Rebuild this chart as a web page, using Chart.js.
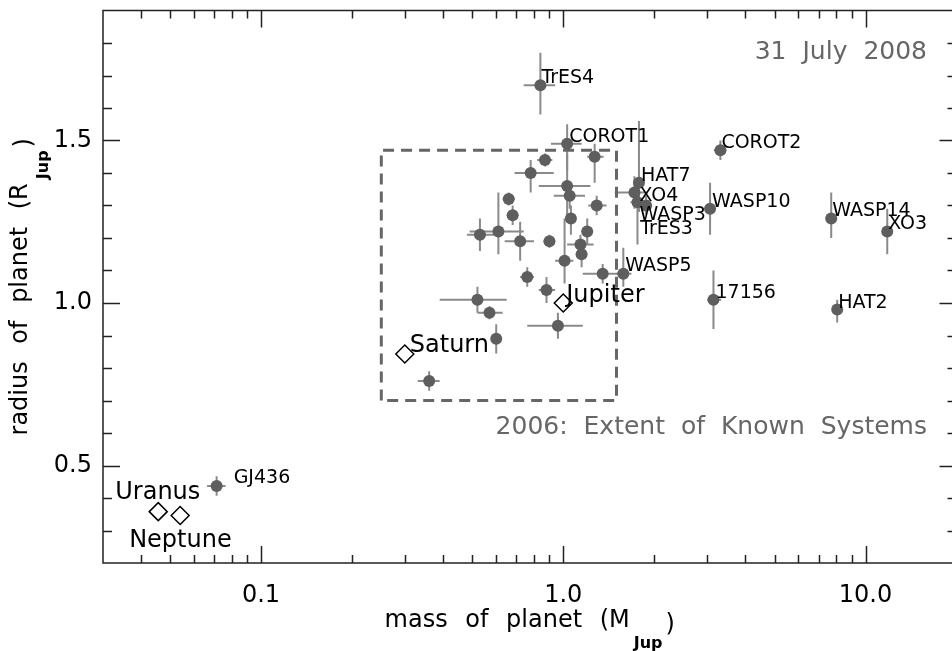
<!DOCTYPE html>
<html>
<head>
<meta charset="utf-8">
<script src="https://cdn.jsdelivr.net/npm/chart.js@4/dist/chart.umd.min.js"></script>
<style>
  html, body { margin: 0; padding: 0; background: #fff; overflow: hidden; }
  canvas { display: block; }
</style>
</head>
<body>
<canvas id="myChart" width="967" height="651"></canvas>
<script>
// transiting planets (mass in M_Jup, radius in R_Jup)
const planetNames = ['TrES4', 'COROT1', '', '', '', '', '', '', '', '', '', '', '', '', '', '', '', '', '', '',
    'WASP5', '', '', '', '', '', '', '', 'HAT7', 'XO4', 'WASP3', 'TrES3', 'COROT2', 'WASP10', 'WASP14', 'XO3',
    '17156', 'HAT2', 'GJ436'];
const planetMass = [0.84, 1.03, 0.87, 0.78, 1.27, 1.03, 1.05, 1.29, 0.66, 0.68, 1.06, 1.20, 0.53, 0.61, 0.72, 0.90,
    1.14, 1.15, 1.01, 1.35, 1.58, 0.76, 0.88, 0.52, 0.57, 0.96, 0.60, 0.36, 1.78, 1.72, 1.76, 1.88, 3.31, 3.06,
    7.70, 11.8, 3.14, 8.06, 0.0713];
const planetRadius = [1.67, 1.49, 1.44, 1.40, 1.45, 1.36, 1.33, 1.30, 1.32, 1.27, 1.26, 1.22, 1.21, 1.22, 1.19, 1.19,
    1.18, 1.15, 1.13, 1.09, 1.09, 1.08, 1.04, 1.01, 0.97, 0.93, 0.89, 0.76, 1.37, 1.34, 1.31, 1.30, 1.47, 1.29,
    1.26, 1.22, 1.01, 0.98, 0.437];
const massErrLow = [0.10, 0.12, 0.05, 0.09, 0.07, 0.20, 0.12, 0.08, 0.03, 0.03, 0.04, 0.05, 0.05, 0.12, 0.08, 0.04,
    0.11, 0.05, 0.07, 0.19, 0.08, 0.04, 0.05, 0.13, 0.05, 0.20, 0.02, 0.03, 0.05, 0.24, 0.09, 0.07, 0.16, 0.13,
    0.30, 0.40, 0.15, 0.30, 0.005];
const massErrHigh = [0.10, 0.12, 0.05, 0.15, 0.09, 0.20, 0.13, 0.10, 0.03, 0.03, 0.04, 0.05, 0.06, 0.13, 0.08, 0.04,
    0.12, 0.05, 0.07, 0.23, 0.10, 0.04, 0.06, 0.13, 0.06, 0.20, 0.02, 0.03, 0.05, 0.17, 0.08, 0.07, 0.16, 0.13,
    0.30, 0.40, 0.19, 0.30, 0.005];
const radiusErrLow = [0.09, 0.08, 0.02, 0.06, 0.08, 0.10, 0.04, 0.03, 0.02, 0.03, 0.05, 0.04, 0.05, 0.07, 0.06, 0.02,
    0.03, 0.04, 0.07, 0.03, 0.04, 0.03, 0.04, 0.04, 0.02, 0.04, 0.045, 0.03, 0.09, 0.05, 0.13, 0.03, 0.03, 0.08,
    0.06, 0.07, 0.09, 0.04, 0.03];
const radiusErrHigh = [0.10, 0.06, 0.02, 0.04, 0.04, 0.10, 0.04, 0.03, 0.02, 0.03, 0.04, 0.04, 0.05, 0.12, 0.06, 0.02,
    0.03, 0.04, 0.13, 0.03, 0.08, 0.03, 0.04, 0.04, 0.02, 0.04, 0.045, 0.03, 0.19, 0.05, 0.05, 0.03, 0.03, 0.08,
    0.08, 0.07, 0.09, 0.03, 0.03];

// solar system giants
const solarNames = ['Jupiter', 'Saturn', 'Uranus', 'Neptune'];
const solarMass = [1.0, 0.299, 0.0457, 0.054];
const solarRadius = [1.0, 0.843, 0.358, 0.346];

// 2006 extent box
const boxMass = [0.25, 1.5];
const boxRadius = [0.70, 1.47];

const xTickValues = [0.1, 1, 10];
const xTickLabels = ['0.1', '1.0', '10.0'];
const yTickValues = [0.5, 1.0, 1.5];
const yTickLabels = ['0.5', '1.0', '1.5'];

const FONT = 'DejaVu Sans';

// label placement (pixels from the marker: text left, baseline)
const labelOffsets = {
    TrES4: [1, -2], COROT1: [2, -2], COROT2: [1, -2], HAT7: [2, -2], XO4: [5, 8], WASP3: [2, 18],
    TrES3: [-6, 28], WASP10: [2, -2], WASP14: [1, -3], XO3: [1, -3], WASP5: [2, -3], '17156': [2, -2],
    HAT2: [1, -2], GJ436: [17, -3], Jupiter: [3, -1], Saturn: [5, -2], Uranus: [-43, -13], Neptune: [-51, 31]
};

const planetPoints = planetMass.map((m, i) => ({x: m, y: planetRadius[i]}));
const solarPoints = solarMass.map((m, i) => ({x: m, y: solarRadius[i]}));
const boxPoints = [
    {x: boxMass[0], y: boxRadius[0]}, {x: boxMass[0], y: boxRadius[1]},
    {x: boxMass[1], y: boxRadius[1]}, {x: boxMass[1], y: boxRadius[0]},
    {x: boxMass[0], y: boxRadius[0]}
];

function minorTicks(scale, isLog) {
    const out = [];
    if (isLog) {
        [0.01, 0.1, 1, 10].forEach(d => {
            for (let k = 2; k <= 9; k++) {
                const v = k * d;
                if (v > scale.min && v < scale.max) out.push(v);
            }
        });
    } else {
        for (let v = 0.3; v < scale.max - 0.01; v += 0.1) {
            const r = Math.round(v * 10) / 10;
            if (yTickValues.indexOf(r) < 0) out.push(r);
        }
    }
    return out;
}

// keep the plot frame exactly where the axes are sized, no label overhang padding
function fixSize(prop, size) {
    return s => {
        s[prop] = size;
        s.paddingTop = 0; s.paddingBottom = 0; s.paddingLeft = 0; s.paddingRight = 0;
    };
}

const decor = {
    id: 'decor',
    beforeDatasetsDraw(chart) {
        const {ctx, scales: {x, y}} = chart;
        ctx.save();
        ctx.strokeStyle = '#8a8a8a';
        ctx.lineWidth = 2;
        planetMass.forEach((m, i) => {
            const r = planetRadius[i];
            const px = x.getPixelForValue(m), py = y.getPixelForValue(r);
            ctx.beginPath();
            ctx.moveTo(x.getPixelForValue(m - massErrLow[i]), py);
            ctx.lineTo(x.getPixelForValue(m + massErrHigh[i]), py);
            ctx.moveTo(px, y.getPixelForValue(r - radiusErrLow[i]));
            ctx.lineTo(px, y.getPixelForValue(r + radiusErrHigh[i]));
            ctx.stroke();
        });
        ctx.restore();
    },
    afterDraw(chart) {
        const {ctx, chartArea: a, scales: {x, y}} = chart;
        ctx.save();

        // frame (right side falls just outside the picture, as in the original)
        ctx.strokeStyle = '#222';
        ctx.lineWidth = 1.5;
        ctx.strokeRect(a.left, a.top, a.right - a.left, a.bottom - a.top);

        // inward ticks on all four sides
        ctx.beginPath();
        const xt = xTickValues.map(v => [v, 17]).concat(minorTicks(x, true).map(v => [v, 8]));
        xt.forEach(([v, len]) => {
            const px = Math.round(x.getPixelForValue(v)) + 0.5;
            ctx.moveTo(px, a.bottom); ctx.lineTo(px, a.bottom - len);
            ctx.moveTo(px, a.top); ctx.lineTo(px, a.top + len);
        });
        const yt = yTickValues.map(v => [v, 17]).concat(minorTicks(y, false).map(v => [v, 9]));
        yt.forEach(([v, len]) => {
            const py = Math.round(y.getPixelForValue(v)) + 0.5;
            ctx.moveTo(a.left, py); ctx.lineTo(a.left + len, py);
            ctx.moveTo(a.right, py); ctx.lineTo(a.right - len, py);
        });
        ctx.stroke();

        // planet labels
        ctx.fillStyle = '#000';
        ctx.textAlign = 'left';
        ctx.textBaseline = 'alphabetic';
        ctx.font = '19px "' + FONT + '"';
        planetNames.forEach((name, i) => {
            if (!name) return;
            const off = labelOffsets[name];
            ctx.fillText(name, x.getPixelForValue(planetMass[i]) + off[0], y.getPixelForValue(planetRadius[i]) + off[1]);
        });
        ctx.font = '24px "' + FONT + '"';
        solarNames.forEach((name, i) => {
            const off = labelOffsets[name];
            ctx.fillText(name, x.getPixelForValue(solarMass[i]) + off[0], y.getPixelForValue(solarRadius[i]) + off[1]);
        });

        // notes
        ctx.fillStyle = '#666';
        ctx.font = '25px "' + FONT + '"';
        ctx.textAlign = 'right';
        ctx.wordSpacing = '8px';
        ctx.fillText('31 July 2008', 927, 59);
        ctx.fillText('2006: Extent of Known Systems', 927, 434);

        // axis titles with subscript
        ctx.fillStyle = '#000';
        ctx.textAlign = 'left';
        function title(main, sub) {
            ctx.font = '24px "' + FONT + '"';
            ctx.wordSpacing = '10px';
            const w1 = ctx.measureText(main).width;
            ctx.font = 'bold 16px "' + FONT + '"';
            const w2 = ctx.measureText(sub).width;
            ctx.font = '24px "' + FONT + '"';
            const w3 = ctx.measureText(')').width;
            const total = w1 + 4 + w2 + 3 + w3;
            let cx = -total / 2;
            ctx.fillText(main, cx, 0);
            cx += w1 + 4;
            ctx.font = 'bold 16px "' + FONT + '"';
            ctx.fillText(sub, cx, 21);
            cx += w2 + 3;
            ctx.font = '24px "' + FONT + '"';
            ctx.fillText(')', cx, 4);
        }
        ctx.save();
        ctx.translate((a.left + a.right) / 2, 627);
        title('mass of planet (M', 'Jup');
        ctx.restore();
        ctx.save();
        ctx.translate(27, (a.top + a.bottom) / 2);
        ctx.rotate(-Math.PI / 2);
        title('radius of planet (R', 'Jup');
        ctx.restore();

        ctx.restore();
    }
};

const ctx = document.getElementById('myChart').getContext('2d');

const myChart = new Chart(ctx, {
    type: 'scatter',
    data: {
        datasets: [{
            label: 'Solar system',
            data: solarPoints,
            pointStyle: 'rectRot',
            pointRadius: 9,
            pointBackgroundColor: '#fff',
            pointBorderColor: '#000',
            pointBorderWidth: 1.5
        }, {
            label: 'Transiting planets',
            data: planetPoints,
            pointRadius: 6,
            pointBackgroundColor: '#5e5e5e',
            pointBorderWidth: 0
        }, {
            label: '2006 extent',
            type: 'line',
            data: boxPoints,
            borderColor: '#666',
            borderWidth: 3,
            borderDash: [11, 7],
            pointRadius: 0,
            fill: false,
            tension: 0
        }]
    },
    options: {
        responsive: false,
        maintainAspectRatio: false,
        animation: false,
        layout: {padding: {top: 9, right: 5, left: 0, bottom: 0}},
        plugins: {
            legend: {display: false},
            tooltip: {enabled: false}
        },
        scales: {
            x: {
                type: 'logarithmic',
                min: 0.03,
                max: 20,
                grid: {display: false, drawTicks: false},
                border: {display: false},
                afterBuildTicks: s => { s.ticks = xTickValues.map(v => ({value: v})); },
                afterFit: fixSize('height', 88),
                ticks: {
                    autoSkip: false,
                    maxRotation: 0,
                    padding: 18,
                    color: '#000',
                    font: {family: FONT, size: 24},
                    callback: (v, i) => xTickLabels[i]
                }
            },
            y: {
                min: 0.2,
                max: 1.9,
                grid: {display: false, drawTicks: false},
                border: {display: false},
                afterBuildTicks: s => { s.ticks = yTickValues.map(v => ({value: v})); },
                afterFit: fixSize('width', 103),
                ticks: {
                    autoSkip: false,
                    padding: 11,
                    color: '#000',
                    font: {family: FONT, size: 24},
                    callback: (v, i) => yTickLabels[i]
                }
            }
        }
    },
    plugins: [decor]
});
</script>
</body>
</html>
